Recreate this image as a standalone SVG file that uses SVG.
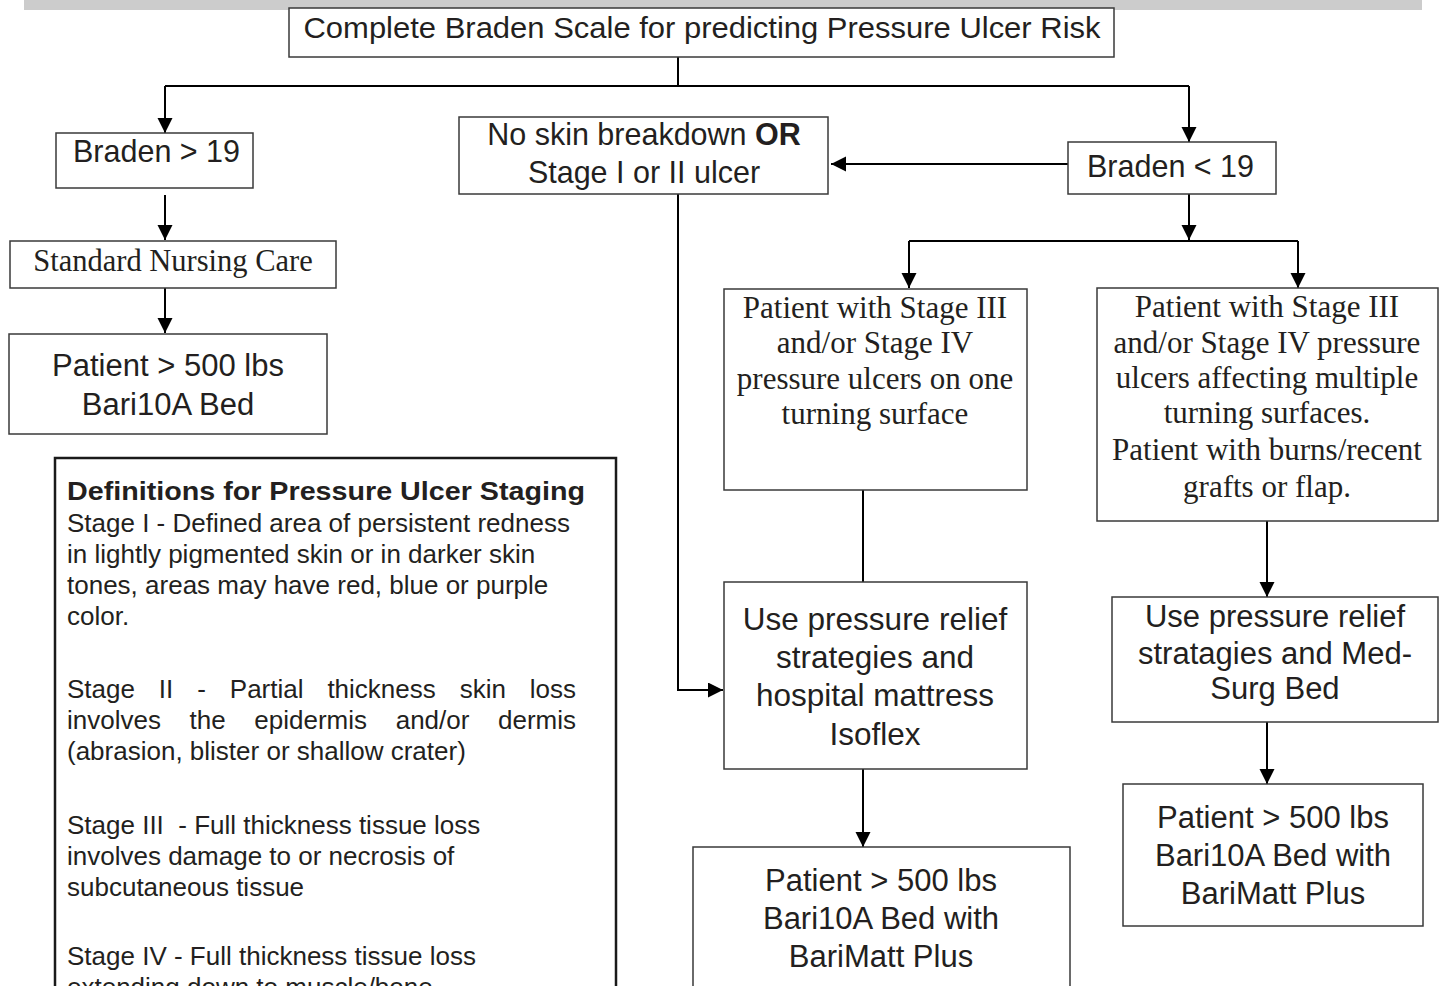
<svg xmlns="http://www.w3.org/2000/svg" width="1447" height="986" viewBox="0 0 1447 986">
<defs>
<style>
.box{fill:#fff;stroke:#3a3a3a;stroke-width:1.5}
.s{font-family:"Liberation Sans",Arial,sans-serif;fill:#231f20}
.r{font-family:"Liberation Serif","Times New Roman",serif;fill:#231f20}
.c{text-anchor:middle}
.ln{fill:none;stroke:#000;stroke-width:2}
</style>
<marker id="ah" markerUnits="userSpaceOnUse" markerWidth="16" markerHeight="16" refX="15" refY="7.5" orient="auto">
<path d="M0,0 L15,7.5 L0,15 z" fill="#000"/>
</marker>
</defs>
<rect width="1447" height="986" fill="#fff"/>
<rect x="24" y="0" width="1398" height="10" fill="#cccccc"/>

<g id="connectors">
<path class="ln" d="M678,57 V86" stroke-width="1.5"/>
<path class="ln" d="M165,86 H1189"/>
<path class="ln" d="M165,86 V133" marker-end="url(#ah)"/>
<path class="ln" d="M1189,86 V142" marker-end="url(#ah)"/>
<path class="ln" d="M165,195 V240" marker-end="url(#ah)"/>
<path class="ln" d="M165,288 V333" marker-end="url(#ah)"/>
<path class="ln" d="M1068,164 H831" marker-end="url(#ah)"/>
<path class="ln" d="M1189,194 V240" marker-end="url(#ah)"/>
<path class="ln" d="M909,241 H1298"/>
<path class="ln" d="M909,241 V288" marker-end="url(#ah)"/>
<path class="ln" d="M1298,241 V288" marker-end="url(#ah)"/>
<path class="ln" d="M678,194 V690 H723" stroke-width="1.5" marker-end="url(#ah)"/>
<path class="ln" d="M863,490 V582" stroke-width="1.5"/>
<path class="ln" d="M863,769 V847" marker-end="url(#ah)"/>
<path class="ln" d="M1267,521 V597" marker-end="url(#ah)"/>
<path class="ln" d="M1267,722 V784" marker-end="url(#ah)"/>
</g>

<g id="n-top">
<rect class="box" x="289" y="8" width="825" height="49"/>
<text class="s c" x="702" y="38" font-size="30" textLength="797" lengthAdjust="spacingAndGlyphs">Complete Braden Scale for predicting Pressure Ulcer Risk</text>
</g>

<g id="n-braden-gt">
<rect class="box" x="56" y="133" width="197" height="55"/>
<text class="s" x="73" y="162" font-size="30.5">Braden &gt; 19</text>
</g>

<g id="n-standard">
<rect class="box" x="10" y="241" width="326" height="47"/>
<text class="r c" x="173" y="271" font-size="30.5">Standard Nursing Care</text>
</g>

<g id="n-patient-left">
<rect class="box" x="9" y="334" width="318" height="100"/>
<text class="s c" x="168" y="376" font-size="31">Patient &gt; 500 lbs</text>
<text class="s c" x="168" y="415" font-size="31">Bari10A Bed</text>
</g>

<g id="n-noskin">
<rect class="box" x="459" y="117" width="369" height="77"/>
<text class="s c" x="644" y="145" font-size="30.5">No skin breakdown <tspan font-weight="bold">OR</tspan></text>
<text class="s c" x="644" y="183" font-size="30.5">Stage I or II ulcer</text>
</g>

<g id="n-braden-lt">
<rect class="box" x="1068" y="142" width="208" height="52"/>
<text class="s" x="1087" y="177" font-size="30.5">Braden &lt; 19</text>
</g>

<g id="n-stage-one">
<rect class="box" x="724" y="289" width="303" height="201"/>
<text class="r c" x="875" y="318" font-size="31">Patient with Stage III</text>
<text class="r c" x="875" y="353" font-size="31">and/or Stage IV</text>
<text class="r c" x="875" y="389" font-size="31">pressure ulcers on one</text>
<text class="r c" x="875" y="424" font-size="31">turning surface</text>
</g>

<g id="n-stage-multi">
<rect class="box" x="1097" y="288" width="341" height="233"/>
<text class="r c" x="1267" y="317" font-size="31">Patient with Stage III</text>
<text class="r c" x="1267" y="353" font-size="31">and/or Stage IV pressure</text>
<text class="r c" x="1267" y="388" font-size="31">ulcers affecting multiple</text>
<text class="r c" x="1267" y="423" font-size="31">turning surfaces.</text>
<text class="r c" x="1267" y="460" font-size="31">Patient with burns/recent</text>
<text class="r c" x="1267" y="497" font-size="31">grafts or flap.</text>
</g>

<g id="n-isoflex">
<rect class="box" x="724" y="582" width="303" height="187"/>
<text class="s c" x="875" y="630" font-size="31.5">Use pressure relief</text>
<text class="s c" x="875" y="668" font-size="31.5">strategies and</text>
<text class="s c" x="875" y="706" font-size="31.5">hospital mattress</text>
<text class="s c" x="875" y="745" font-size="31.5">Isoflex</text>
</g>

<g id="n-medsurg">
<rect class="box" x="1112" y="597" width="326" height="125"/>
<text class="s c" x="1275" y="627" font-size="31">Use pressure relief</text>
<text class="s c" x="1275" y="664" font-size="31">stratagies and Med-</text>
<text class="s c" x="1275" y="699" font-size="31">Surg Bed</text>
</g>

<g id="n-patient-mid">
<rect class="box" x="693" y="847" width="377" height="160"/>
<text class="s c" x="881" y="891" font-size="31">Patient &gt; 500 lbs</text>
<text class="s c" x="881" y="929" font-size="31">Bari10A Bed with</text>
<text class="s c" x="881" y="967" font-size="31">BariMatt Plus</text>
</g>

<g id="n-patient-right">
<rect class="box" x="1123" y="784" width="300" height="142"/>
<text class="s c" x="1273" y="828" font-size="31">Patient &gt; 500 lbs</text>
<text class="s c" x="1273" y="866" font-size="31">Bari10A Bed with</text>
<text class="s c" x="1273" y="904" font-size="31">BariMatt Plus</text>
</g>

<g id="n-definitions">
<rect x="55" y="458" width="561" height="560" fill="#fff" stroke="#1a1a1a" stroke-width="2.5"/>
<text class="s" x="67" y="500" font-size="26" font-weight="bold" textLength="518" lengthAdjust="spacingAndGlyphs">Definitions for Pressure Ulcer Staging</text>
<text class="s" font-size="26">
<tspan x="67" y="532">Stage I - Defined area of persistent redness</tspan>
<tspan x="67" y="563">in lightly pigmented skin or in darker skin</tspan>
<tspan x="67" y="594">tones, areas may have red, blue or purple</tspan>
<tspan x="67" y="625">color.</tspan>
</text>
<text class="s" font-size="26" y="698"><tspan x="67">Stage</tspan><tspan x="158.8">II</tspan><tspan x="197.2">-</tspan><tspan x="229.8">Partial</tspan><tspan x="327.4">thickness</tspan><tspan x="459.7">skin</tspan><tspan x="529.8">loss</tspan></text>
<text class="s" font-size="26" y="729"><tspan x="67">involves</tspan><tspan x="189.6">the</tspan><tspan x="254.3">epidermis</tspan><tspan x="395.7">and/or</tspan><tspan x="498">dermis</tspan></text>
<text class="s" font-size="26" x="67" y="760">(abrasion, blister or shallow crater)</text>
<text class="s" font-size="26" style="white-space:pre">
<tspan x="67" y="834">Stage III  - Full thickness tissue loss</tspan>
<tspan x="67" y="865">involves damage to or necrosis of</tspan>
<tspan x="67" y="896">subcutaneous tissue</tspan>
</text>
<text class="s" font-size="26">
<tspan x="67" y="965">Stage IV - Full thickness tissue loss</tspan>
<tspan x="67" y="996">extending down to muscle/bone</tspan>
</text>
</g>
</svg>
